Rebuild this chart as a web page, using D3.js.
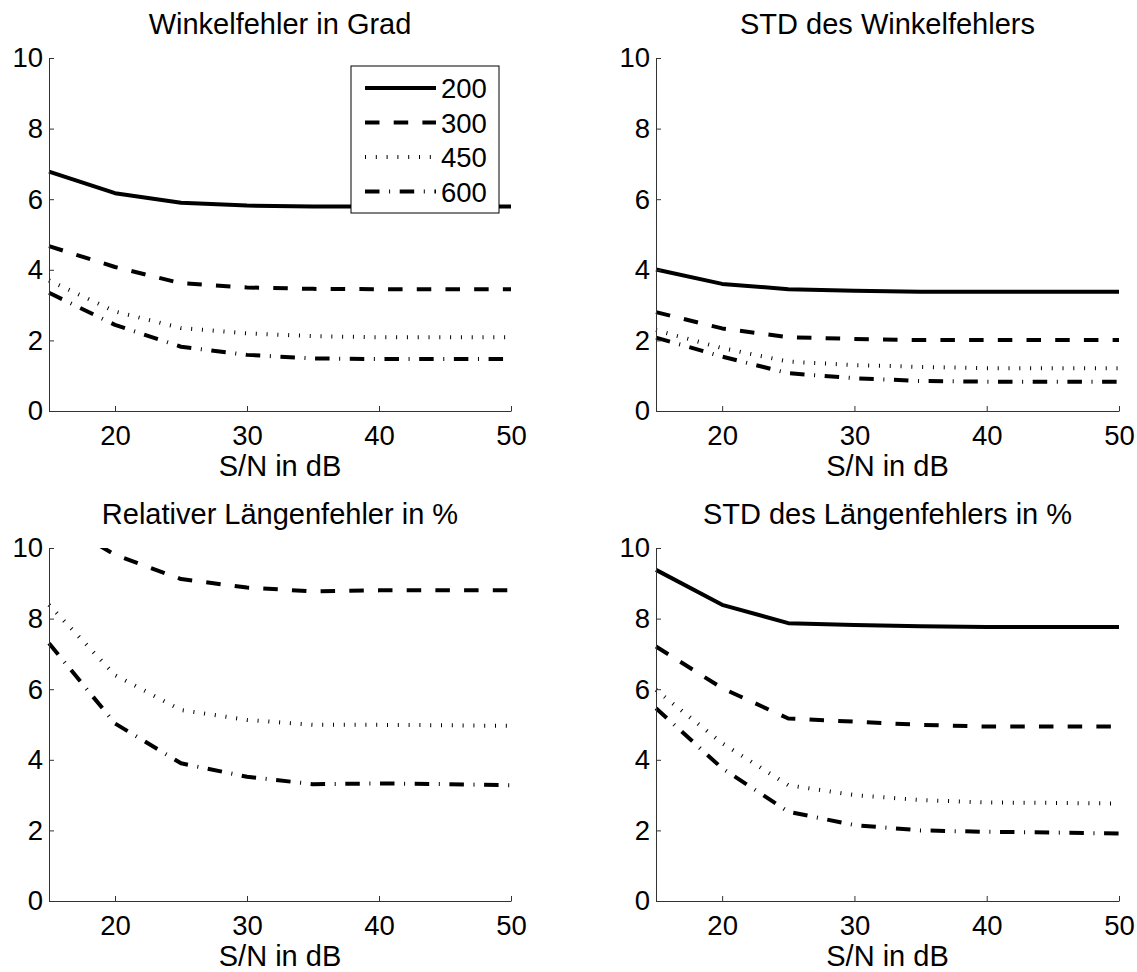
<!DOCTYPE html>
<html>
<head>
<meta charset="utf-8">
<script src="https://cdn.jsdelivr.net/npm/d3@7"></script>
<style>
  body { margin: 0; background: #fff; }
  svg { display: block; font-family: "Liberation Sans", Arial, sans-serif; }
  .tick text { font-size: 27.5px; fill: #000; }
  .lbl { font-size: 29px; fill: #000; }
  .leg { font-size: 27.5px; fill: #000; }
  .domain, .tick line { stroke: #333; stroke-width: 1; }
</style>
</head>
<body>
<svg id="chart" width="1137" height="972"></svg>
<script>
/*************************************************/
// Data

var snr = [15, 20, 25, 30, 35, 40, 45, 50];
var xTicks = [20, 30, 40, 50];
var yTicks = [0, 2, 4, 6, 8, 10];
var legendNames = ['200', '300', '450', '600'];
var xLabel = 'S/N in dB';

// Winkelfehler in Grad
var winkel200 = [6.78, 6.17, 5.90, 5.82, 5.79, 5.79, 5.79, 5.79];
var winkel300 = [4.67, 4.08, 3.62, 3.50, 3.46, 3.45, 3.45, 3.45];
var winkel450 = [3.70, 2.82, 2.35, 2.20, 2.12, 2.09, 2.09, 2.09];
var winkel600 = [3.35, 2.44, 1.82, 1.59, 1.49, 1.47, 1.47, 1.47];

// STD des Winkelfehlers
var winkelStd200 = [4.01, 3.60, 3.45, 3.41, 3.38, 3.38, 3.38, 3.38];
var winkelStd300 = [2.80, 2.34, 2.09, 2.04, 2.01, 2.01, 2.01, 2.01];
var winkelStd450 = [2.29, 1.78, 1.40, 1.30, 1.25, 1.21, 1.21, 1.21];
var winkelStd600 = [2.08, 1.54, 1.07, 0.93, 0.85, 0.83, 0.83, 0.83];

// Relativer Längenfehler in % (200 lies above the visible range)
var laenge300 = [10.9, 9.81, 9.12, 8.88, 8.77, 8.80, 8.80, 8.80];
var laenge450 = [8.39, 6.40, 5.41, 5.13, 4.99, 4.99, 4.98, 4.96];
var laenge600 = [7.30, 5.03, 3.90, 3.52, 3.31, 3.33, 3.31, 3.28];

// STD des Längenfehlers in %
var laengeStd200 = [9.38, 8.39, 7.87, 7.82, 7.78, 7.76, 7.76, 7.76];
var laengeStd300 = [7.21, 6.03, 5.17, 5.08, 4.99, 4.94, 4.94, 4.94];
var laengeStd450 = [5.98, 4.47, 3.28, 3.00, 2.86, 2.79, 2.78, 2.76];
var laengeStd600 = [5.46, 3.76, 2.53, 2.15, 2.00, 1.96, 1.94, 1.91];

/*************************************************/

var dashes = { '200': null, '300': '14.5,14.2', '450': '1,9.8', '600': '14.5,9.6,1,9.6' };

var panels = [
  { title: 'Winkelfehler in Grad', left: 49, right: 511, top: 58, bottom: 411, legend: true,
    series: [['200', winkel200], ['300', winkel300], ['450', winkel450], ['600', winkel600]] },
  { title: 'STD des Winkelfehlers', left: 656, right: 1119, top: 58, bottom: 411,
    series: [['200', winkelStd200], ['300', winkelStd300], ['450', winkelStd450], ['600', winkelStd600]] },
  { title: 'Relativer Längenfehler in %', left: 49, right: 511, top: 548, bottom: 901,
    series: [['300', laenge300], ['450', laenge450], ['600', laenge600]] },
  { title: 'STD des Längenfehlers in %', left: 656, right: 1119, top: 548, bottom: 901,
    series: [['200', laengeStd200], ['300', laengeStd300], ['450', laengeStd450], ['600', laengeStd600]] }
];

var svg = d3.select('#chart');

panels.forEach(function(p, i){
  var xScale = d3.scaleLinear().domain([15, 50]).range([p.left, p.right]);
  var yScale = d3.scaleLinear().domain([0, 10]).range([p.bottom, p.top]);
  var g = svg.append('g');

  g.append('clipPath').attr('id', 'clip' + i)
    .append('rect').attr('x', p.left - 3).attr('y', p.top).attr('width', p.right - p.left + 6).attr('height', p.bottom - p.top + 3);

  var lineGen = d3.line().x(function(d){ return xScale(d[0]); }).y(function(d){ return yScale(d[1]); });

  p.series.forEach(function(s){
    var pts = snr.map(function(x, j){ return [x, s[1][j]]; });
    g.append('path').attr('d', lineGen(pts)).attr('clip-path', 'url(#clip' + i + ')')
      .style('fill', 'none').style('stroke', '#000').style('stroke-width', 4)
      .style('stroke-linejoin', 'round')
      .style('stroke-dasharray', dashes[s[0]]);
  });

  g.append('g').attr('transform', 'translate(0,' + p.bottom + ')')
    .call(d3.axisBottom(xScale).tickValues(xTicks).tickSizeInner(-5).tickSizeOuter(0).tickPadding(14).tickFormat(d3.format('d')));
  g.append('g').attr('transform', 'translate(' + p.left + ',0)')
    .call(d3.axisLeft(yScale).tickValues(yTicks).tickSizeInner(-5).tickSizeOuter(0).tickPadding(6).tickFormat(d3.format('d')));
  g.selectAll('.tick text').attr('font-family', null).attr('font-size', null);

  var cx = (p.left + p.right) / 2;
  g.append('text').attr('class', 'lbl').attr('x', cx).attr('y', p.top - 24).attr('text-anchor', 'middle').text(p.title);
  g.append('text').attr('class', 'lbl').attr('x', cx).attr('y', p.bottom + 65).attr('text-anchor', 'middle').text(xLabel);

  if(p.legend){
    var lg = g.append('g');
    lg.append('rect').attr('x', 351).attr('y', 66).attr('width', 148).attr('height', 147)
      .style('fill', '#fff').style('stroke', '#000').style('stroke-width', 1);
    legendNames.forEach(function(n, k){
      var yy = 88 + k * 34.5;
      lg.append('line').attr('x1', 365).attr('x2', 436).attr('y1', yy).attr('y2', yy)
        .style('stroke', '#000').style('stroke-width', 4).style('stroke-dasharray', dashes[n]);
      lg.append('text').attr('class', 'leg').attr('x', 441).attr('y', yy + 10).text(n);
    });
  }
});
</script>
</body>
</html>
